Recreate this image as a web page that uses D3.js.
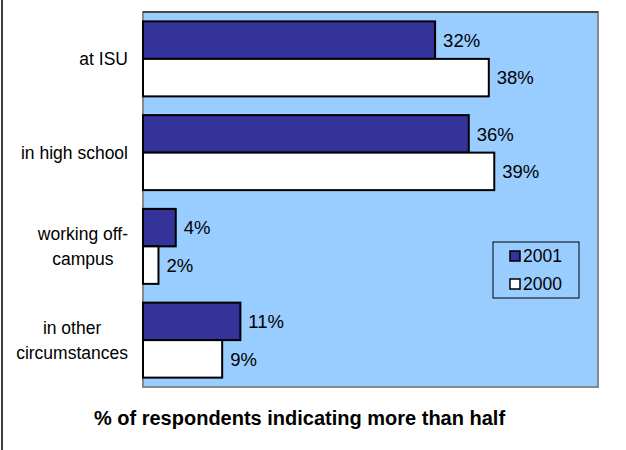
<!DOCTYPE html>
<html>
<head>
<meta charset="utf-8">
<script src="https://cdn.jsdelivr.net/npm/d3@7"></script>
<style>
  body { margin: 0; background: #fff; }
  text { font-family: "Liberation Sans", Arial, sans-serif; fill: #000; }
</style>
</head>
<body>
<div id="graph"></div>
<script>
var categories = ["at ISU", "in high school", "working off-\ncampus", "in other\ncircumstances"];
var series = ["2001", "2000"];
var values2001 = [32.1, 35.8, 3.6, 10.7];
var values2000 = [38.0, 38.6, 1.7, 8.7];
var xTicks = [0, 50];
var title = "% of respondents indicating more than half";

var dark_color = "#333399";
var plot_bg = "#99CCFF";

var width = 626, height = 450;
var plot = {left: 143, top: 12, right: 598, bottom: 387};

var svg = d3.select("#graph").append("svg")
    .attr("width", width)
    .attr("height", height);

// outer frame (only left edge shows)
svg.append("line")
   .attr("x1", 2).attr("x2", 2).attr("y1", 0).attr("y2", height)
   .attr("stroke", "#000").attr("stroke-width", 1.5);

var x = d3.scaleLinear()
    .domain(xTicks)
    .range([plot.left, plot.right]);

var y = d3.scaleBand()
    .domain(categories)
    .range([plot.top, plot.bottom])
    .paddingInner(0.2)
    .paddingOuter(0.1);

var ySub = d3.scaleBand()
    .domain(series)
    .range([0, y.bandwidth()]);

var colors = d3.scaleOrdinal().domain(series).range([dark_color, "#ffffff"]);

// plot area
svg.append("rect")
   .attr("x", plot.left).attr("y", plot.top)
   .attr("width", plot.right - plot.left).attr("height", plot.bottom - plot.top)
   .attr("fill", plot_bg)
   .attr("stroke", "#888").attr("stroke-width", 2);
svg.append("line")
   .attr("x1", plot.left).attr("x2", plot.right)
   .attr("y1", plot.top).attr("y2", plot.top)
   .attr("stroke", "#333").attr("stroke-width", 1.5);

var rows = categories.map(function(c, i) {
  return [{cat: c, s: "2001", v: values2001[i]}, {cat: c, s: "2000", v: values2000[i]}];
});
var bars = d3.merge(rows);

svg.selectAll(".bar")
   .data(bars)
   .enter()
   .append("rect")
   .attr("class", "bar")
   .attr("x", x(0))
   .attr("y", function(d) { return y(d.cat) + ySub(d.s); })
   .attr("width", function(d) { return x(d.v) - x(0); })
   .attr("height", ySub.bandwidth())
   .attr("fill", function(d) { return colors(d.s); })
   .attr("stroke", "#000")
   .attr("stroke-width", 2);

svg.selectAll(".val")
   .data(bars)
   .enter()
   .append("text")
   .attr("class", "val")
   .attr("x", function(d) { return x(d.v) + 8; })
   .attr("y", function(d) { return y(d.cat) + ySub(d.s) + ySub.bandwidth() / 2; })
   .attr("dy", "0.36em")
   .style("font-size", "18.5px")
   .text(function(d) { return d3.format(".0f")(d.v) + "%"; });

// category labels: block right-aligned, lines centred inside the block
var labelRight = 128;
categories.forEach(function(c) {
  var lines = c.split("\n");
  var g = svg.append("g");
  var lh = 25;
  var cy = y(c) + y.bandwidth() / 2;
  var ts = g.selectAll("text")
     .data(lines)
     .enter()
     .append("text")
     .attr("text-anchor", "middle")
     .attr("dy", "0.36em")
     .style("font-size", "17.5px")
     .attr("y", function(d, i) { return cy + (i - (lines.length - 1) / 2) * lh; })
     .text(function(d) { return d; });
  var w = d3.max(ts.nodes(), function(n) { return n.getComputedTextLength(); });
  ts.attr("x", labelRight - w / 2);
});

// legend
var legend = svg.append("g").attr("transform", "translate(493,242)");
legend.append("rect")
   .attr("width", 86).attr("height", 56)
   .attr("fill", plot_bg)
   .attr("stroke", "#000").attr("stroke-width", 1);
var li = legend.selectAll(".item")
   .data(series)
   .enter()
   .append("g")
   .attr("transform", function(d, i) { return "translate(17," + (9 + i * 28) + ")"; });
li.append("rect")
   .attr("width", 10).attr("height", 10)
   .attr("fill", function(d) { return colors(d); })
   .attr("stroke", "#000").attr("stroke-width", 1.5);
li.append("text")
   .attr("x", 13).attr("y", 5)
   .attr("dy", "0.36em")
   .style("font-size", "17.5px")
   .text(function(d) { return d; });

svg.append("text")
   .attr("x", (plot.left + plot.right) / 2 - 71)
   .attr("y", 418)
   .attr("dy", "0.36em")
   .attr("text-anchor", "middle")
   .style("font-size", "20px")
   .style("font-weight", "bold")
   .text(title);
</script>
</body>
</html>
